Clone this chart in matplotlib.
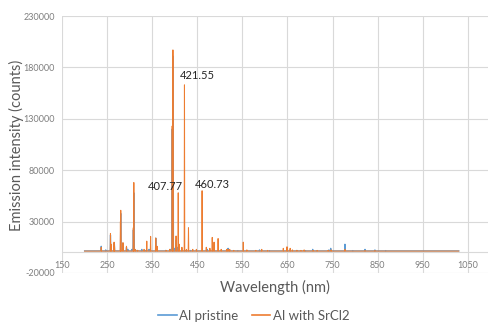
import matplotlib
matplotlib.use("Agg")
import matplotlib.pyplot as plt
import numpy as np

plt.rcParams['font.family'] = ['Lato', 'DejaVu Sans']

# ---- data ----
wl_start, wl_end = 200, 1030
baseline_pristine = 1500
baseline_srcl2 = 1300

pristine_nm = [237, 247, 257.5, 265.5, 266.2, 280.3, 285.2, 293, 296, 305, 308.2, 309.3,
               317, 327, 336, 343, 358, 361, 380, 390, 394.4, 396.6, 400, 403, 406,
               416, 425, 435, 472, 517, 518.4, 521, 540, 588, 610, 650, 656, 671, 690,
               706, 715, 742, 746, 777.5, 795, 822, 844, 868]
pristine_counts = [6000, 2500, 17000, 9000, 8000, 38000, 9000, 5000, 3000, 3000, 22000, 58000,
                   2000, 3000, 2000, 3000, 14000, 5000, 2000, 3000, 120000, 191000, 4000, 12000, 5000,
                   2000, 2000, 2000, 3000, 3000, 4000, 2500, 1800, 2500, 1800, 2500, 2500, 2000, 1800,
                   3000, 1800, 2500, 4000, 8000, 1800, 3000, 2500, 1800]

srcl2_nm = [237, 257.5, 259, 265.5, 266.4, 279.6, 280.3, 285.2, 293, 308.2, 309.3, 313,
            318, 332, 338, 346.5, 358, 361, 381, 389, 394.4, 396.0, 403, 407.8, 410,
            416, 421.6, 426, 430.5, 440, 448, 460.7, 470, 478, 483.2, 487.2, 496.2,
            503, 515, 518, 522, 531, 552, 560, 580, 593, 606, 640.8, 649, 656, 661,
            671, 680, 687, 707, 716, 740, 747, 777.5, 822, 844]
srcl2_counts = [5000, 18500, 8000, 10000, 7000, 30000, 41000, 9500, 6000, 24000, 68000, 3000,
                2000, 3000, 11000, 15600, 14000, 6000, 2000, 3000, 123000, 197000, 16000, 58000, 8000,
                5000, 163000, 3000, 24000, 3000, 3000, 60000, 5000, 4000, 14600, 10000, 13500,
                3000, 3000, 3000, 3000, 2000, 10000, 2500, 2000, 3000, 2000, 4000, 5500, 4000, 2500,
                2000, 2000, 2500, 2000, 2000, 2000, 2500, 3000, 1800, 1800]

labels = ["407.77", "421.55", "460.73"]
label_x = [341, 412, 445]
label_y = [64000, 172000, 66000]

x_ticks = [150, 250, 350, 450, 550, 650, 750, 850, 950, 1050]
y_ticks = [-20000, 30000, 80000, 130000, 180000, 230000]


def spectrum(peaks, heights, base, hw=0.6):
    order = np.argsort(peaks)
    xs, ys = [wl_start], [base]
    for i in order:
        p, h = peaks[i], heights[i]
        xs += [p - hw, p, p + hw]
        ys += [base, h, base]
    xs.append(wl_end)
    ys.append(base)
    return xs, ys


fig = plt.figure(figsize=(4.89, 3.22), dpi=100)
ax = fig.add_axes([62 / 489, 1 - 273 / 322, 1 - 62 / 489, (273 - 16) / 322])

bx, by = spectrum(pristine_nm, pristine_counts, baseline_pristine)
ox, oy = spectrum(srcl2_nm, srcl2_counts, baseline_srcl2)
ax.plot(bx, by, color='#5B9BD5', lw=0.9, label='Al pristine')
ax.plot(ox, oy, color='#ED7D31', lw=0.75, label='Al with SrCl2')

ax.set_xlim(150, 1097)
ax.set_ylim(-20000, 230000)
ax.set_xticks(x_ticks)
ax.set_yticks(y_ticks)
ax.set_yticklabels([str(v) for v in y_ticks])
ax.grid(True, color='#D9D9D9', lw=0.8)
ax.set_axisbelow(True)
for s in ['top', 'right', 'left']:
    ax.spines[s].set_visible(False)
ax.spines['bottom'].set_position(('data', 0))
ax.spines['bottom'].set_color('#D9D9D9')
ax.tick_params(length=0, labelsize=6.5, colors='#7F7F7F', pad=5)
ax.tick_params(axis='x', pad=6)

for t, x, y in zip(labels, label_x, label_y):
    ax.text(x, y, t, fontsize=8, color='#262626', ha='left', va='center')

fig.text(275 / 489, 1 - 287 / 322, 'Wavelength (nm)', fontsize=10.5, color='#595959',
         ha='center', va='center')
fig.text(16 / 489, 1 - 145 / 322, 'Emission intensity (counts)', fontsize=10.5,
         color='#595959', ha='center', va='center', rotation=90)

leg = fig.legend(loc='center', bbox_to_anchor=(254 / 489, 1 - 316 / 322), ncol=2, frameon=False,
                 fontsize=9.5, handlelength=1.4, columnspacing=1.0, handletextpad=0.2,
                 labelcolor='#595959')
for h in leg.get_lines():
    h.set_linewidth(1.2)

fig.savefig('out.png', dpi=100)
